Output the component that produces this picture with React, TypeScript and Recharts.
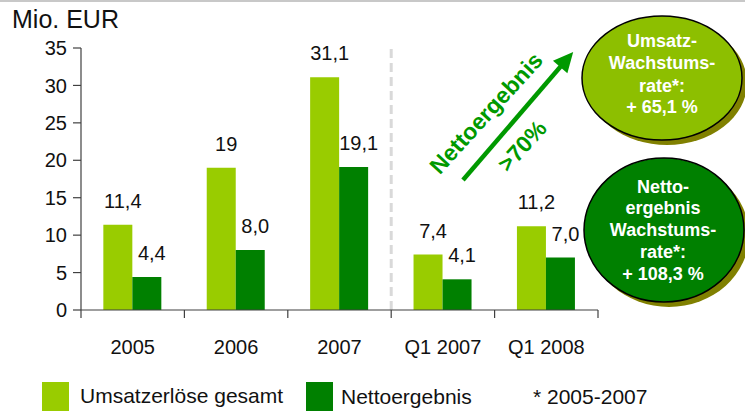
import React from 'react';
import { BarChart, Bar, XAxis, YAxis, LabelList, ReferenceLine } from 'recharts';

const categories = ['2005', '2006', '2007', 'Q1 2007', 'Q1 2008'];
const umsatzValues = [11.4, 19, 31.1, 7.4, 11.2];
const nettoValues = [4.4, 8.0, 19.1, 4.1, 7.0];
const umsatzLabels = ['11,4', '19', '31,1', '7,4', '11,2'];
const nettoLabels = ['4,4', '8,0', '19,1', '4,1', '7,0'];
const yTicks = [0, 5, 10, 15, 20, 25, 30, 35];

const LIGHT = '#99cc00';
const DARK = '#008000';
const FONT = 'Liberation Sans, Arial, Helvetica, sans-serif';

const data = categories.map((c, i) => ({
  cat: c,
  umsatz: umsatzValues[i],
  netto: nettoValues[i],
  uL: umsatzLabels[i],
  nL: nettoLabels[i],
}));

const valueLabel = (props: any) => {
  const { x, y, width, value } = props;
  return (
    <text x={x + width / 2 + 5} y={y - 17} textAnchor="middle" fontSize={20} fill="#111" fontFamily={FONT}>
      {value}
    </text>
  );
};

const XTick = (props: any) => {
  const { x, payload, index, visibleTicksCount } = props;
  const half = payload && payload.offset ? payload.offset : 51.7;
  const axisY = 310;
  return (
    <g>
      <line x1={x - half} y1={axisY} x2={x - half} y2={axisY + 8} stroke="#404040" strokeWidth={1.2} />
      {index === visibleTicksCount - 1 && (
        <line x1={x + half} y1={axisY} x2={x + half} y2={axisY + 8} stroke="#404040" strokeWidth={1.2} />
      )}
      <text x={x} y={axisY + 44} textAnchor="middle" fontSize={20} fill="#111" fontFamily={FONT}>
        {payload.value}
      </text>
    </g>
  );
};

export default function App() {
  return (
    <div style={{ position: 'absolute', left: 0, top: 0, width: 745, height: 411, background: '#fff', fontFamily: FONT }}>
      <BarChart
        width={745}
        height={411}
        data={data}
        margin={{ top: 48, right: 147, bottom: 41, left: 0 }}
        barCategoryGap="21.6%"
        barGap={0}
      >
        <XAxis
          dataKey="cat"
          height={60}
          axisLine={{ stroke: '#404040', strokeWidth: 1.2 }}
          tickLine={false}
          tick={<XTick />}
          interval={0}
        />
        <YAxis
          width={81}
          domain={[0, 35]}
          ticks={yTicks}
          interval={0}
          axisLine={{ stroke: '#404040', strokeWidth: 1.2 }}
          tickLine={{ stroke: '#404040', strokeWidth: 1.2 }}
          tickSize={8}
          tickMargin={6}
          tick={{ fontSize: 20, fill: '#111', fontFamily: FONT }}
        />
        <ReferenceLine
          x="Q1 2007"
          position="start"
          stroke="#d9d9d9"
          strokeWidth={3}
          strokeDasharray="9 5"
        />
        <Bar dataKey="umsatz" fill={LIGHT} isAnimationActive={false}>
          <LabelList dataKey="uL" content={valueLabel} />
        </Bar>
        <Bar dataKey="netto" fill={DARK} isAnimationActive={false}>
          <LabelList dataKey="nL" content={valueLabel} />
        </Bar>
      </BarChart>

      <svg
        width={745}
        height={411}
        style={{ position: 'absolute', left: 0, top: 0, pointerEvents: 'none' }}
        fontFamily={FONT}
      >
        <rect x={0} y={0} width={745} height={2} fill="#c8c8c8" />
        <text x={12} y={28} fontSize={25} fill="#111">Mio. EUR</text>

        {/* arrow */}
        <g transform="translate(463,180) rotate(-49.3)">
          <line x1={0} y1={0} x2={153} y2={0} stroke="#009900" strokeWidth={4.5} />
          <polygon points="169,0 149,-9.5 149,9.5" fill="#009900" />
        </g>
        <text
          transform="translate(486,113) rotate(-47.5)"
          textAnchor="middle"
          dy="0.35em"
          fontSize={23}
          fontWeight="bold"
          fill="#009900"
        >
          Nettoergebnis
        </text>
        <text
          transform="translate(522,146) rotate(-47.5)"
          textAnchor="middle"
          dy="0.35em"
          fontSize={23}
          fontWeight="bold"
          fill="#009900"
        >
          &gt;70%
        </text>

        {/* top ellipse */}
        <ellipse cx={667} cy={83} rx={80} ry={62} fill="#808000" />
        <ellipse cx={662} cy={78} rx={80} ry={62} fill="#8dbf00" stroke="#000" strokeWidth={1.5} />
        <g fill="#fff" fontSize={18} fontWeight="bold" textAnchor="middle">
          <text x={662} y={47}>Umsatz-</text>
          <text x={662} y={69}>Wachstums-</text>
          <text x={662} y={92}>rate*:</text>
          <text x={662} y={113}>+ 65,1 %</text>
        </g>

        {/* bottom ellipse */}
        <ellipse cx={669} cy={235} rx={80} ry={72} fill="#808000" />
        <ellipse cx={664} cy={230} rx={80} ry={72} fill="#008000" stroke="#000" strokeWidth={1.5} />
        <g fill="#fff" fontSize={18} fontWeight="bold" textAnchor="middle">
          <text x={663} y={193}>Netto-</text>
          <text x={663} y={214}>ergebnis</text>
          <text x={663} y={236}>Wachstums-</text>
          <text x={663} y={258}>rate*:</text>
          <text x={663} y={280}>+ 108,3 %</text>
        </g>

        {/* legend */}
        <rect x={42} y={382} width={27} height={29} fill={LIGHT} />
        <text x={80} y={403} fontSize={21} fill="#111">Umsatzerlöse gesamt</text>
        <rect x={306} y={382} width={27} height={29} fill={DARK} />
        <text x={341} y={404} fontSize={21} fill="#111">Nettoergebnis</text>
        <text x={533} y={404} fontSize={21} fill="#111">* 2005-2007</text>
      </svg>
    </div>
  );
}
